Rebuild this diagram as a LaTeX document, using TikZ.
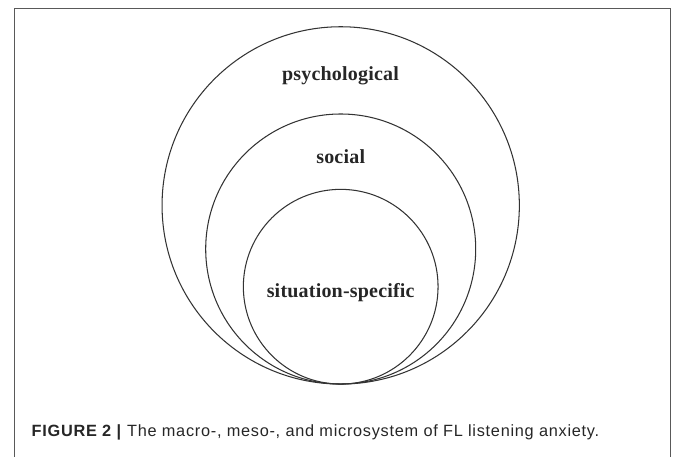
\documentclass[tikz,border=0pt]{standalone}
\usepackage{fontspec}
\setmainfont{Liberation Serif}[LetterSpace=1]
\newfontfamily\capfont{Liberation Sans}[LetterSpace=4.5]
\begin{document}
\begin{tikzpicture}[x=1pt,y=-1pt,
  ring/.style={draw=black!80,line width=1.05pt},
  lab/.style={font=\fontsize{20}{23}\selectfont\bfseries,text=black!85,inner sep=0pt},
  frame/.style={draw=black!65,line width=1pt}]
\useasboundingbox (0,0) rectangle (674,457);
\draw[frame] (14,457) -- (14,9) -- (670.5,9) -- (670.5,457);
\node[ring,circle,minimum size=357.3pt,inner sep=0pt] (outer) at (340.7,205.4) {};
\node[ring,circle,minimum size=270pt,inner sep=0pt] (middle) at (340.7,249) {};
\node[ring,circle,minimum size=194.7pt,inner sep=0pt] (inner) at (340.7,286.7) {};
\node[lab] (psy) at (340.5,76) {psychological};
\node[lab] (soc) at (340.7,157) {social};
\node[lab] (sit) at (340.7,292.5) {situation-specific};
\node[anchor=base west,inner sep=0pt,text=black!85,font=\capfont\fontsize{16.3}{19}\selectfont] (cap) at (31.5,436.7)
  {\textbf{FIGURE 2 |} The macro-, meso-, and microsystem of FL listening anxiety.};
\end{tikzpicture}
\end{document}
